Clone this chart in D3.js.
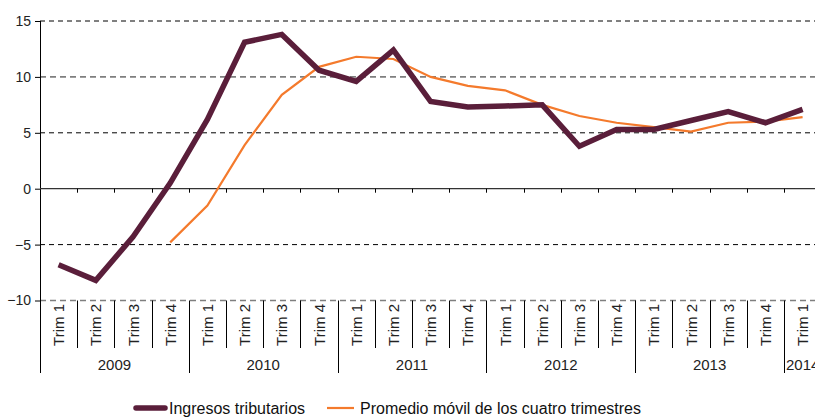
<!DOCTYPE html>
<html>
<head>
<meta charset="utf-8">
<script src="https://cdn.jsdelivr.net/npm/d3@7"></script>
<style>
  body { margin: 0; background: #fff; }
  svg { display: block; font-family: "Liberation Sans", Arial, sans-serif; }
</style>
</head>
<body>
<div id="chart"></div>
<script>
const years = ['2009', '2010', '2011', '2012', '2013', '2014'];
const quarters = ['Trim 1', 'Trim 2', 'Trim 3', 'Trim 4'];
const periods = d3.range(21).map(i => ({ year: years[Math.floor(i / 4)], q: quarters[i % 4] }));

const ingresos = [-6.8, -8.2, -4.3, 0.5, 6.2, 13.1, 13.8, 10.6, 9.6, 12.4, 7.8, 7.3,
                  7.4, 7.5, 3.8, 5.3, 5.3, 6.1, 6.9, 5.9, 7.1];
const promedio = [null, null, null, -4.8, -1.5, 3.9, 8.4, 10.9, 11.8, 11.6, 10.0, 9.2,
                  8.8, 7.5, 6.5, 5.9, 5.5, 5.1, 5.9, 6.0, 6.4];
const yTicks = [-10, -5, 0, 5, 10, 15];

const width = 815, height = 417;
const svg = d3.select('#chart').append('svg')
    .attr('width', width)
    .attr('height', height);

const x = d3.scaleBand().domain(d3.range(21)).range([40, 40 + 21 * 37.2]);
const y = d3.scaleLinear().domain([-10, 15]).range([300.5, 21]);
const cx = i => x(i) + x.bandwidth() / 2;

// gridlines
yTicks.filter(d => d !== 0).forEach(d => {
    const grey = d === 10 || d === -10;
    svg.append('line')
        .attr('x1', 40).attr('x2', width)
        .attr('y1', y(d)).attr('y2', y(d))
        .attr('stroke', grey ? '#7f7f7f' : '#000')
        .attr('stroke-width', grey ? 1.6 : 1)
        .attr('stroke-dasharray', grey ? '6,4' : '5,4');
});

// y axis
const yAxis = svg.append('g')
    .attr('transform', 'translate(40,0)')
    .call(d3.axisLeft(y).tickValues(yTicks).tickSize(5).tickPadding(4));
yAxis.select('.domain').remove();
yAxis.selectAll('line').attr('stroke', '#000');
yAxis.selectAll('text').attr('font-size', 14).attr('fill', '#222')
    .attr('font-family', '"Liberation Sans", Arial, sans-serif');
svg.append('line')
    .attr('x1', 40.5).attr('x2', 40.5)
    .attr('y1', y(15)).attr('y2', 373)
    .attr('stroke', '#000');

// zero line with ticks
svg.append('line')
    .attr('x1', 40).attr('x2', width)
    .attr('y1', y(0)).attr('y2', y(0))
    .attr('stroke', '#333').attr('stroke-width', 1.2);
svg.append('g').selectAll('line')
    .data(d3.range(1, 21))
    .join('line')
    .attr('x1', i => Math.round(x(i)) + 0.5).attr('x2', i => Math.round(x(i)) + 0.5)
    .attr('y1', y(0)).attr('y2', y(0) + 4)
    .attr('stroke', '#000');

// category separators and labels
svg.append('g').selectAll('line')
    .data(d3.range(1, 21))
    .join('line')
    .attr('x1', i => Math.round(x(i)) + 0.5).attr('x2', i => Math.round(x(i)) + 0.5)
    .attr('y1', y(-10)).attr('y2', i => i % 4 === 0 ? 373 : 348)
    .attr('stroke', '#000');

svg.append('g').selectAll('text')
    .data(periods)
    .join('text')
    .attr('transform', (d, i) => `translate(${cx(i) + 5.5},325) rotate(-90)`)
    .attr('text-anchor', 'middle')
    .attr('font-size', 15)
    .attr('fill', '#222')
    .text(d => d.q);

svg.append('g').selectAll('text')
    .data(years)
    .join('text')
    .attr('x', (d, k) => {
        const a = x(k * 4), b = x(Math.min(k * 4 + 3, 20)) + x.bandwidth();
        return k === 5 ? x(20) + 2 : (a + b) / 2;
    })
    .attr('y', 370)
    .attr('text-anchor', (d, k) => k === 5 ? 'start' : 'middle')
    .attr('font-size', 15)
    .attr('fill', '#222')
    .text(d => d);

// lines
const line = d3.line()
    .defined(d => d != null)
    .x((d, i) => cx(i))
    .y(d => y(d));

svg.append('path')
    .datum(promedio)
    .attr('fill', 'none')
    .attr('stroke', '#f47a2c')
    .attr('stroke-width', 2.2)
    .attr('d', line);

svg.append('path')
    .datum(ingresos)
    .attr('fill', 'none')
    .attr('stroke', '#5a1e3a')
    .attr('stroke-width', 5.5)
    .attr('d', line);

// legend
const legend = [
    { label: 'Ingresos tributarios', color: '#5a1e3a', w: 5.5, x: 136 },
    { label: 'Promedio móvil de los cuatro trimestres', color: '#f47a2c', w: 2.2, x: 327 }
];
const lg = svg.append('g').selectAll('g').data(legend).join('g')
    .attr('transform', d => `translate(${d.x},408)`);
lg.append('line')
    .attr('x1', 0).attr('x2', d => d.w > 3 ? 29 : 27)
    .attr('stroke', d => d.color)
    .attr('stroke-width', d => d.w)
    .attr('stroke-linecap', d => d.w > 3 ? 'round' : 'butt');
lg.append('text')
    .attr('x', d => d.w > 3 ? 33 : 33).attr('y', 6)
    .attr('font-size', 16)
    .attr('fill', '#111')
    .text(d => d.label);
</script>
</body>
</html>
